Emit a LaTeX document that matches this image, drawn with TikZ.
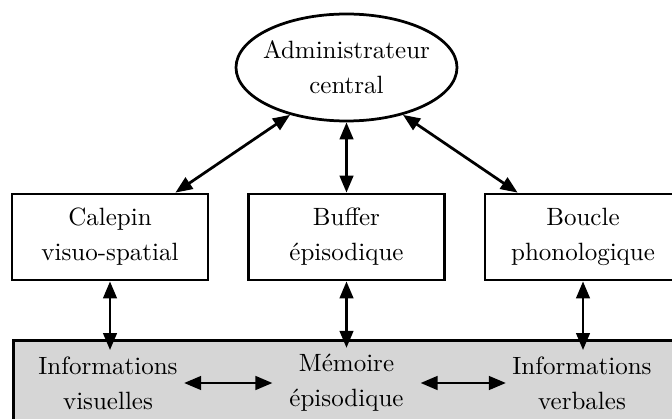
\documentclass[tikz,border=0pt]{standalone}
\usetikzlibrary{arrows.meta,shapes.geometric}
\definecolor{memgray}{RGB}{214,214,214}
\begin{document}
\begin{tikzpicture}[x=0.4pt,y=-0.4pt,
  every node/.style={font=\fontsize{10}{14}\selectfont, align=center},
  box/.style={draw, line width=1.1pt, minimum width=78.4pt, minimum height=34.4pt, inner sep=0pt},
  lbl/.style={inner sep=2.4pt},
  link/.style={line width=1.1pt, {Triangle[length=6.8pt,width=5.4pt]}-{Triangle[length=6.8pt,width=5.4pt]}}]
\useasboundingbox (0,0) rectangle (672,419);
\clip (0,0) rectangle (672,419);
% memory band
\node[draw, fill=memgray, line width=1.1pt, minimum width=275.2pt, minimum height=48pt,
      anchor=north west, inner sep=0pt] (mem) at (12,339) {};
% central executive
\node[draw, ellipse, line width=1.1pt, minimum width=88.4pt, minimum height=42.8pt, inner sep=0pt] (adm) at (346.5,67.5) {};
\node (admtxt) at (adm.center) {Administrateur\\central};
% middle boxes
\node[box] (cal) at (110,237) {Calepin\\visuo-spatial};
\node[box] (buf) at (346.5,237) {Buffer\\épisodique};
\node[box] (bou) at (583,237) {Boucle\\phonologique};
% bottom labels
\node[lbl] (iv) at (108,383) {Informations\\visuelles};
\node[lbl, inner xsep=6.6pt] (me) at (346.5,383) {Mémoire\\épisodique};
\node[lbl] (ivb) at (582,383) {Informations\\verbales};
% connectors
\draw[link] (adm.220) -- (cal);
\draw[link] (adm.south) -- (buf.north);
\draw[link] (adm.320) -- (bou);
\draw[link] (cal.south) -- (cal.south |- iv.north);
\draw[link] (buf.south) -- (me.north);
\draw[link] (bou.south) -- (bou.south |- ivb.north);
\draw[link] (iv.east) -- (me.west);
\draw[link] (me.east) -- (ivb.west);
\end{tikzpicture}
\end{document}
